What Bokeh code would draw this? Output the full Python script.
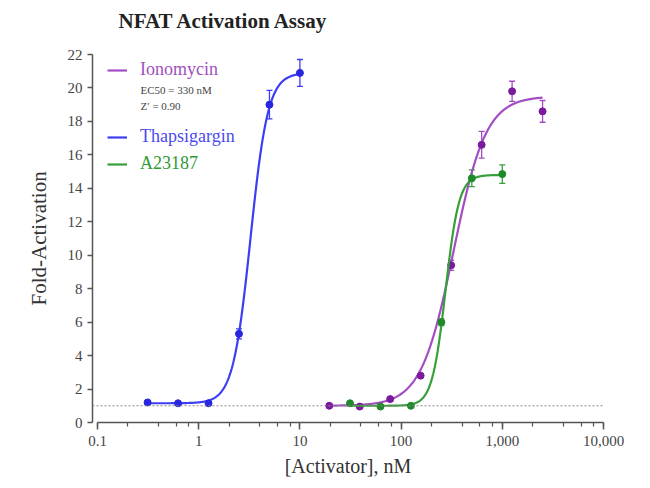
import numpy as np
from bokeh.plotting import figure
from bokeh.models import (ColumnDataSource, Whisker, TeeHead, Span, Legend, LegendItem,
                          Label, Range1d, LogTicker, FixedTicker, Title)
from bokeh.embed import file_html
from bokeh.resources import INLINE

# ---------------- data ----------------
thaps_conc = [0.3125, 0.625, 1.25, 2.5, 5, 10]
thaps_fold = [1.2, 1.15, 1.15, 5.3, 19.0, 20.9]
thaps_err = [0.08, 0.05, 0.05, 0.3, 0.85, 0.8]

iono_conc = [19.5, 39, 78, 156, 312.5, 625, 1250, 2500]
iono_fold = [1.0, 0.95, 1.4, 2.8, 9.4, 16.6, 19.8, 18.6]
iono_err = [0.05, 0.05, 0.1, 0.1, 0.3, 0.8, 0.6, 0.65]

a23_conc = [31.25, 62.5, 125, 250, 500, 1000]
a23_fold = [1.15, 0.95, 1.0, 6.0, 14.6, 14.85]
a23_err = [0.05, 0.05, 0.05, 0.2, 0.5, 0.55]

# fitted 4PL parameters (bottom, top, EC50, hill)
thaps_fit = (1.15, 20.9, 3.25, 5.0)
iono_fit = (1.0, 19.5, 330.0, 2.7)
a23_fit = (1.0, 14.8, 275.0, 6.5)

baseline = 1.0
x_tick_values = [0.1, 1, 10, 100, 1000, 10000]
x_tick_labels = ["0.1", "1", "10", "100", "1,000", "10,000"]
y_tick_values = [0, 2, 4, 6, 8, 10, 12, 14, 16, 18, 20, 22]
title_text = "NFAT Activation Assay"
y_label_text = "Fold-Activation"
x_label_text = "[Activator], nM"

FONT = "Liberation Serif"

# frame extends to the top of the page; the y axis itself is bounded to 0..22
p = figure(width=650, height=488, x_axis_type="log",
           x_range=Range1d(0.0892, 10000), y_range=Range1d(0, 24.75),
           output_backend="svg", toolbar_location=None, title_location=None,
           min_border_left=92, min_border_right=47, min_border_top=8, min_border_bottom=66)
p.grid.visible = False
p.outline_line_color = None

p.add_layout(Label(x=26, y=402, x_units="screen", y_units="screen", text=title_text,
                   text_font=FONT, text_font_style="bold", text_font_size="21px",
                   text_color="#222222", text_baseline="middle", text_align="left"))

# axes
xa = p.xaxis[0]
xa.ticker = LogTicker()
xa.bounds = (0.1, 10000)
xa.major_label_overrides = {v: l for v, l in zip(x_tick_values, x_tick_labels)}
xa.axis_label = x_label_text
ya = p.yaxis[0]
ya.ticker = FixedTicker(ticks=y_tick_values)
ya.bounds = (0, 22)
for ax in (xa, ya):
    ax.axis_line_color = "#555555"
    ax.axis_line_width = 1.5
    ax.major_tick_line_color = "#555555"
    ax.major_tick_line_width = 1.5
    ax.minor_tick_line_color = "#555555"
    ax.minor_tick_line_width = 1.2
    ax.major_tick_in = 0
    ax.minor_tick_in = 0
    ax.major_label_text_font = FONT
    ax.major_label_text_font_size = "15px"
    ax.major_label_text_color = "#444444"
    ax.axis_label_text_font = FONT
    ax.axis_label_text_font_style = "normal"
    ax.axis_label_text_color = "#333333"
xa.axis_label_text_font_size = "20px"
xa.major_tick_out = 7
xa.minor_tick_out = 4
xa.major_label_standoff = 6
xa.axis_label_standoff = 6
ya.major_tick_out = 5
ya.minor_tick_out = 0
ya.major_label_standoff = 5

# y-axis title, centred on the 0..22 axis span rather than the whole frame
p.add_layout(Title(text=y_label_text, align="left", offset=117, vertical_align="bottom",
                   standoff=28, text_font=FONT, text_font_size="21px",
                   text_font_style="normal", text_color="#333333"), "left")

p.add_layout(Span(location=baseline, dimension="width", line_color="#888888",
                  line_width=1.2, line_dash="2 2"))

def curve(conc, fit):
    b, t, ec, h = fit
    xs = np.logspace(np.log10(min(conc)), np.log10(max(conc)), 300)
    ys = b + (t - b) / (1 + (ec / xs) ** h)
    return xs, ys

series = [
    ("Ionomycin", iono_conc, iono_fold, iono_err, iono_fit, "#a34dc4", "#7b1a9c", "#a050c0"),
    ("Thapsigargin", thaps_conc, thaps_fold, thaps_err, thaps_fit, "#3d3df5", "#2727e0", "#4a4af0"),
    ("A23187", a23_conc, a23_fold, a23_err, a23_fit, "#35a03a", "#1f8a2a", "#2f9a35"),
]

lines = {}
for name, conc, fold, err, fit, lc, pc, tc in series:
    xs, ys = curve(conc, fit)
    r = p.line(xs, ys, line_color=lc, line_width=2.2)
    lines[name] = r
    src = ColumnDataSource(dict(x=conc, y=fold,
                                upper=[f + e for f, e in zip(fold, err)],
                                lower=[f - e for f, e in zip(fold, err)]))
    p.add_layout(Whisker(source=src, base="x", upper="upper", lower="lower",
                         line_color=lc, line_width=1.3,
                         upper_head=TeeHead(size=6, line_color=lc, line_width=1.3),
                         lower_head=TeeHead(size=6, line_color=lc, line_width=1.3)))
    p.scatter("x", "y", source=src, size=7, fill_color=pc, line_color=pc)

legend_pos = {"Ionomycin": (15, 342), "Thapsigargin": (15, 275), "A23187": (15, 248)}
for name, conc, fold, err, fit, lc, pc, tc in series:
    leg = Legend(items=[LegendItem(label=name, renderers=[lines[name]])],
                 location=legend_pos[name], label_text_color=tc, label_text_font=FONT,
                 label_text_font_size="18px", border_line_color=None,
                 background_fill_alpha=0, padding=0, margin=0, glyph_width=20,
                 glyph_height=20, label_height=20, label_standoff=13, spacing=0)
    p.add_layout(leg)

p.add_layout(Label(x=48, y=333, x_units="screen", y_units="screen", text="EC50 = 330 nM",
                   text_font=FONT, text_font_size="11px", text_color="#444444",
                   text_baseline="middle"))
p.add_layout(Label(x=48, y=317, x_units="screen", y_units="screen", text="Z\u2032 = 0.90",
                   text_font=FONT, text_font_size="11px", text_color="#444444",
                   text_baseline="middle"))

open("out.html", "w").write(file_html(p, INLINE))
